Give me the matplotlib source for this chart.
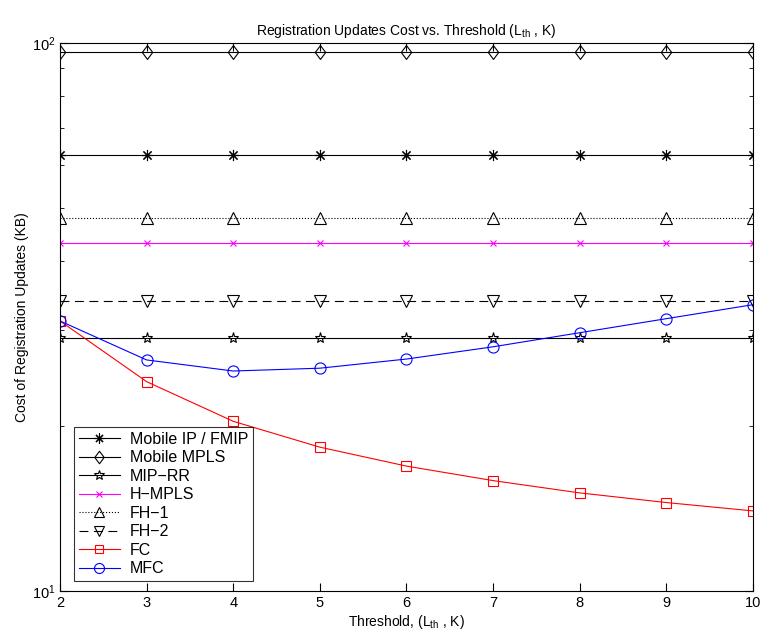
import matplotlib
matplotlib.use("Agg")
import matplotlib.pyplot as plt
from matplotlib.path import Path
from matplotlib.ticker import NullFormatter

plt.rcParams['font.family'] = ['Liberation Sans', 'DejaVu Sans']
plt.rcParams['mathtext.fontset'] = 'custom'
plt.rcParams['mathtext.rm'] = 'Liberation Sans'

# threshold values (L_th, K)
threshold = [2, 3, 4, 5, 6, 7, 8, 9, 10]

# registration update cost (KB)
mobile_ip = [62.5] * 9
mobile_mpls = [96.3] * 9
mip_rr = [28.9] * 9
h_mpls = [43.2] * 9
fh1 = [47.9] * 9
fh2 = [33.8] * 9
fc = [31.1, 24.1, 20.4, 18.3, 16.9, 15.9, 15.1, 14.5, 14.0]
mfc = [31.1, 26.4, 25.2, 25.5, 26.5, 27.9, 29.6, 31.4, 33.3]

# matlab-like diamond, a bit taller than wide
diamond = Path([(0, 1), (0.75, 0), (0, -1), (-0.75, 0), (0, 1)],
               [Path.MOVETO, Path.LINETO, Path.LINETO, Path.LINETO,
                Path.CLOSEPOLY])

fig = plt.figure(figsize=(7.61, 6.32), dpi=100)
ax = fig.add_axes([0.0788, 0.0649, 0.9107, 0.8671])

lw = 0.8
mw = 0.8
ax.plot(threshold, mobile_ip, color='black', lw=lw, marker=(8, 2, 0),
        ms=8, mew=mw, label='Mobile IP / FMIP')
ax.plot(threshold, mobile_mpls, color='black', lw=lw, marker=diamond,
        ms=10, mfc='none', mew=mw, label='Mobile MPLS')
ax.plot(threshold, mip_rr, color='black', lw=lw, marker='*',
        ms=8, mfc='none', mew=mw, label='MIP\u2212RR')
ax.plot(threshold, h_mpls, color='magenta', lw=lw, marker='x',
        ms=5, mew=mw, label='H\u2212MPLS')
ax.plot(threshold, fh1, color='black', lw=lw, ls=':', marker='^',
        ms=8, mfc='none', mew=mw, label='FH\u22121')
ax.plot(threshold, fh2, color='black', lw=lw, ls=(0, (8, 5)), marker='v',
        ms=8, mfc='none', mew=mw, label='FH\u22122')
ax.plot(threshold, fc, color='red', lw=lw, marker='s',
        ms=7, mfc='none', mew=mw, label='FC')
ax.plot(threshold, mfc, color='blue', lw=lw, marker='o',
        ms=8, mfc='none', mew=mw, label='MFC')

ax.set_yscale('log')
ax.set_xlim(2, 10)
ax.set_ylim(10, 100)
ax.set_xticks(threshold)
ax.yaxis.set_minor_formatter(NullFormatter())
ax.tick_params(which='both', direction='in', top=True, right=True,
               labelsize=10.5)
ax.tick_params(which='major', length=6)
ax.tick_params(which='minor', length=3)
for s in ax.spines.values():
    s.set_linewidth(0.8)

ax.set_title(r'Registration Updates Cost vs. Threshold (L$_{\rm th}$ , K)',
             fontsize=10, pad=6)
ax.set_xlabel(r'Threshold, (L$_{\rm th}$ , K)', fontsize=10, labelpad=2)
ax.set_ylabel('Cost of Registration Updates (KB)', fontsize=10, labelpad=2)

leg = ax.legend(loc='lower left', bbox_to_anchor=(0.02, 0.018),
                fontsize=11.5, frameon=True, fancybox=False,
                edgecolor='black', handlelength=2.6, borderpad=0.3,
                labelspacing=0.22, handletextpad=0.6, borderaxespad=0,
                markerscale=0.9)
leg.get_frame().set_linewidth(0.8)

fig.savefig('out.png', dpi=100)
